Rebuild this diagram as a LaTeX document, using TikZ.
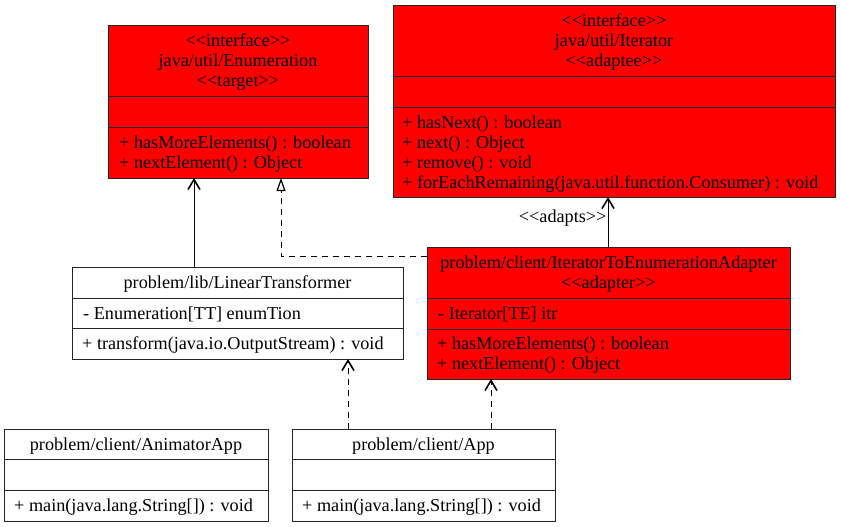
\documentclass[tikz,border=0pt]{standalone}
\usepackage{fontspec}
\setmainfont{Liberation Serif}
\usetikzlibrary{arrows.meta}
\newcommand{\lt}{<\kern0pt<}
\newcommand{\gt}{>\kern0pt>}
\begin{document}
\begin{tikzpicture}[x=1pt,y=-1pt,
  every node/.style={font=\fontsize{18.2}{20}\selectfont},
  cls/.style={draw=black!85,line width=1pt,fill=white,inner sep=0pt,outer sep=0pt},
  redcls/.style={cls,fill=red},
  txt/.style={inner sep=0pt,anchor=base,text height=0pt},
  mtxt/.style={inner sep=0pt,anchor=base west},
  sep/.style={draw=black!85,line width=1pt},
  dep/.style={line width=1pt,dashed,dash pattern=on 6pt off 5pt,-{Straight Barb[length=10pt,width=12pt,line width=1.6pt]}},
  assoc/.style={line width=1pt,-{Straight Barb[length=10pt,width=12pt,line width=1.6pt]}},
  real/.style={line width=1pt,dashed,dash pattern=on 6pt off 5pt,-{Triangle[open,length=13pt,width=9pt,line width=1.2pt]}}
]
\useasboundingbox (0,0) rectangle (841,527);

% Enumeration
\node[redcls,minimum width=260pt,minimum height=152pt] (enum) at (238,102) {};
\draw[sep] (108,96) -- (368,96) (108,127) -- (368,127);
\node[txt] (enum1) at (238,46.5) {\lt interface\gt};
\node[txt] (enum2) at (238,66.5) {java/util/Enumeration};
\node[txt] (enum3) at (238,86.5) {\lt target\gt};
\node[mtxt] (enumm1) at (119,148.5) {+ hasMoreElements() : boolean};
\node[mtxt] (enumm2) at (119,168.5) {+ nextElement() : Object};

% Iterator
\node[redcls,minimum width=442pt,minimum height=191pt] (iter) at (614,101.5) {};
\draw[sep] (393,77) -- (835,77) (393,107) -- (835,107);
\node[txt] (iter1) at (614,26.5) {\lt interface\gt};
\node[txt] (iter2) at (614,46.5) {java/util/Iterator};
\node[txt] (iter3) at (614,66.5) {\lt adaptee\gt};
\node[mtxt] (iterm1) at (402,128.5) {+ hasNext() : boolean};
\node[mtxt] (iterm2) at (402,148.5) {+ next() : Object};
\node[mtxt] (iterm3) at (402,168.5) {+ remove() : void};
\node[mtxt] (iterm4) at (402,188.5) {+ forEachRemaining(java.util.function.Consumer) : void};

% LinearTransformer
\node[cls,minimum width=331pt,minimum height=92pt] (lt) at (237.5,313) {};
\draw[sep] (72,298) -- (403,298) (72,328) -- (403,328);
\node[txt] (lt1) at (237.5,288.5) {problem/lib/LinearTransformer};
\node[mtxt] (ltf) at (83,319.5) {- Enumeration[TT] enumTion};
\node[mtxt] (ltm) at (82,349.5) {+ transform(java.io.OutputStream) : void};

% Adapter
\node[redcls,minimum width=363pt,minimum height=132pt] (ad) at (608.5,313) {};
\draw[sep] (427,298) -- (790,298) (427,329) -- (790,329);
\node[txt] (ad1) at (608.5,268.5) {problem/client/IteratorToEnumerationAdapter};
\node[txt] (ad2) at (608.5,288.5) {\lt adapter\gt};
\node[mtxt] (adf) at (438,319.5) {- Iterator[TE] itr};
\node[mtxt] (adm1) at (437,349.5) {+ hasMoreElements() : boolean};
\node[mtxt] (adm2) at (437,369.5) {+ nextElement() : Object};

% AnimatorApp
\node[cls,minimum width=264pt,minimum height=92pt] (anim) at (136,475) {};
\draw[sep] (4,459) -- (268,459) (4,490) -- (268,490);
\node[txt] (anim1) at (136,450.5) {problem/client/AnimatorApp};
\node[mtxt] (animm) at (14,511.5) {+ main(java.lang.String[]) : void};

% App
\node[cls,minimum width=263pt,minimum height=92pt] (app) at (423.5,475) {};
\draw[sep] (292,459) -- (555,459) (292,490) -- (555,490);
\node[txt] (app1) at (423.5,450.5) {problem/client/App};
\node[mtxt] (appm) at (302,511.5) {+ main(java.lang.String[]) : void};

% connectors
\draw[assoc] (lt.north -| 194,0) -- (enum.south -| 194,0);
\draw[real] (ad.west |- 0,256) -- (281,256) -- (enum.south -| 281,0);
\draw[assoc] (ad.north -| 608,0) -- node[pos=0.58,left=1pt,inner sep=0pt] (adlbl) {\lt adapts\gt} (iter.south -| 608,0);
\draw[dep] (app.north -| 348,0) -- (lt.south -| 348,0);
\draw[dep] (app.north -| 491,0) -- (ad.south -| 491,0);
\end{tikzpicture}
\end{document}
